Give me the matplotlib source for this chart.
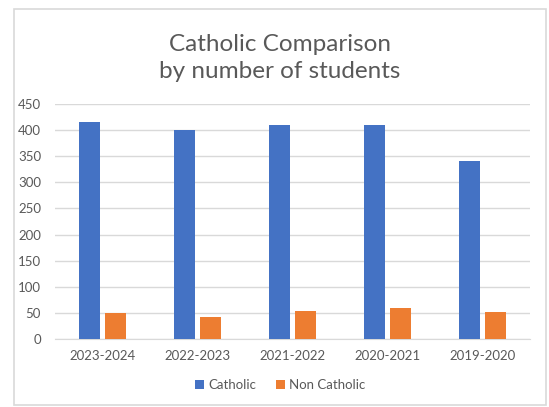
import matplotlib.pyplot as plt
from matplotlib.patches import Rectangle
import numpy as np

years = ['2023-2024', '2022-2023', '2021-2022', '2020-2021', '2019-2020']
catholic = [415, 400, 410, 410, 340]
non_catholic = [50, 42, 54, 60, 52]

blue = '#4472C4'
orange = '#ED7D31'
txt = '#595959'

plt.rcParams['font.family'] = ['Lato', 'DejaVu Sans']

fig = plt.figure(figsize=(5.49, 4.07), dpi=100)
fig.patches.append(Rectangle((14 / 549, 2 / 407), 532 / 549, 396 / 407,
                             transform=fig.transFigure, fill=False,
                             edgecolor='#d9d9d9', linewidth=1.2))

ax = fig.add_axes([55 / 549, 68 / 407, 475 / 549, 235 / 407])
x = np.arange(len(years))
w = 0.22
ax.bar(x - 0.137, catholic, w, color=blue, label='Catholic', zorder=3)
ax.bar(x + 0.137, non_catholic, w, color=orange, label='Non Catholic', zorder=3)

ax.set_xlim(-0.5, len(years) - 0.5)
ax.set_ylim(0, 450)
ax.set_yticks(range(0, 451, 50))
ax.set_xticks(x)
ax.set_xticklabels(years)
ax.yaxis.grid(True, color='#d9d9d9', linewidth=1, zorder=0)
ax.tick_params(length=0, colors=txt, labelsize=9.5, pad=8)
ax.tick_params(axis='y', pad=10)
for s in ['top', 'right', 'left']:
    ax.spines[s].set_visible(False)
ax.spines['bottom'].set_color('#d9d9d9')

fig.text(280 / 549, 1 - 58 / 407, 'Catholic Comparison\nby number of students',
         ha='center', va='center', fontsize=17.5, color=txt, linespacing=1.3)

fig.legend(loc='center', bbox_to_anchor=(280 / 549, 1 - 385 / 407), ncol=2,
           frameon=False, fontsize=9.5, labelcolor=txt, handlelength=0.7,
           handleheight=0.7, handletextpad=0.3, columnspacing=1.5)

fig.savefig('out.png', dpi=100)
